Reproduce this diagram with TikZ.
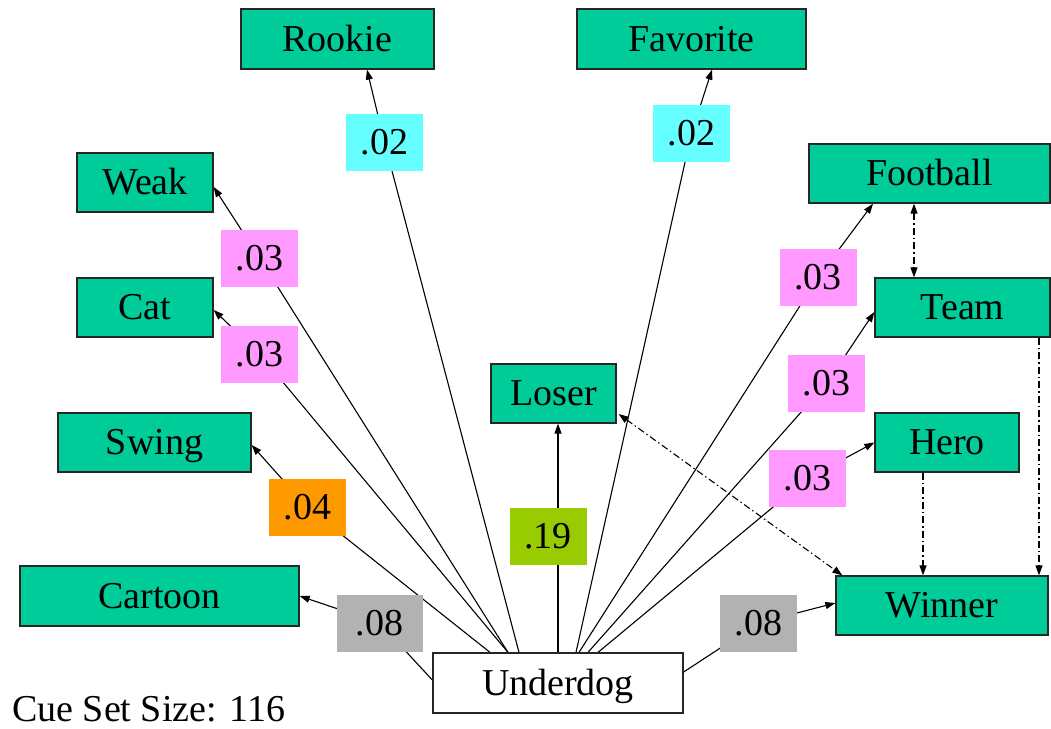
\documentclass[tikz,border=0pt]{standalone}
\usepackage{fontspec}
\setmainfont{Liberation Serif}
\usetikzlibrary{arrows.meta}
\definecolor{boxgreen}{HTML}{00CC99}
\definecolor{labpink}{HTML}{FF99FF}
\definecolor{labcyan}{HTML}{66FFFF}
\definecolor{laborange}{HTML}{FF9900}
\definecolor{lablime}{HTML}{99CC00}
\definecolor{labgray}{HTML}{B2B2B2}
\pgfdeclarelayer{background}
\pgfsetlayers{background,main}
\begin{document}
\begin{tikzpicture}[x=1pt,y=-1pt,
  bigfont/.style={font=\fontsize{38}{40}\selectfont},
  term/.style={bigfont, draw=black!85, line width=1.3pt, fill=boxgreen, inner sep=0pt,
    text height=28pt, text depth=4pt, anchor=center},
  cue/.style={term, fill=white},
  wlab/.style={bigfont, fill=#1, inner sep=0pt, minimum width=77pt, minimum height=57pt,
    text height=28pt, text depth=4pt, anchor=center},
  assoc/.style={line width=1.1pt, -{Triangle[length=10pt,width=7pt]}},
  rel/.style={line width=1.1pt, dash pattern=on 7pt off 3pt on 1.5pt off 3pt},
  relone/.style={rel, -{Triangle[length=10pt,width=7pt]}},
  reltwo/.style={rel, {Triangle[length=10pt,width=7pt]}-{Triangle[length=10pt,width=7pt]}}
]
\useasboundingbox (0,0) rectangle (1051,728);

% target boxes
\node[term, minimum width=193pt, minimum height=60pt] (rookie) at (337.5,39) {Rookie};
\node[term, minimum width=229pt, minimum height=60pt] (favorite) at (691.5,39) {Favorite};
\node[term, minimum width=136pt, minimum height=59pt] (weak) at (145,182.5) {Weak};
\node[term, minimum width=136pt, minimum height=59pt] (cat) at (145,307.5) {Cat};
\node[term, minimum width=193pt, minimum height=59pt] (swing) at (154.5,442.5) {Swing};
\node[term, minimum width=279pt, minimum height=60pt] (cartoon) at (159.5,596) {Cartoon};
\node[term, minimum width=125pt, minimum height=59pt] (loser) at (553.5,393.5) {Loser};
\node[term, minimum width=241pt, minimum height=59pt] (football) at (929.5,173.5) {Football};
\node[term, minimum width=175pt, minimum height=59pt] (team) at (962.5,307.5) {Team};
\node[term, minimum width=144pt, minimum height=59pt] (hero) at (947,442.5) {Hero};
\node[term, minimum width=212pt, minimum height=59pt] (winner) at (942,605.5) {Winner};
\node[cue, minimum width=250pt, minimum height=60pt] (underdog) at (558,683) {Underdog};

% strength labels
\node[wlab=labcyan] (lrookie) at (384.5,142.5) {.02};
\node[wlab=labcyan] (lfavorite) at (691.5,133) {.02};
\node[wlab=labpink] (lweak) at (259.5,258) {.03};
\node[wlab=labpink] (lcat) at (259.5,354) {.03};
\node[wlab=laborange] (lswing) at (307.5,507.5) {.04};
\node[wlab=labgray, minimum width=86pt] (lcartoon) at (379.5,623) {.08};
\node[wlab=lablime] (lloser) at (548,536.5) {.19};
\node[wlab=labpink] (lfootball) at (818,277.5) {.03};
\node[wlab=labpink] (lteam) at (826.5,383.5) {.03};
\node[wlab=labpink] (lhero) at (807.5,478.5) {.03};
\node[wlab=labgray] (lwinner) at (758.5,623) {.08};

\node[font=\fontsize{38}{40}\selectfont, inner sep=0pt, anchor=base west] (cueset) at (12,721) {Cue Set Size: 116};

\begin{pgfonlayer}{background}
\draw[assoc] ([xshift=-39pt]underdog.north) -- (lrookie.center) -- ([xshift=29.5pt]rookie.south);
\draw[assoc] ([xshift=18pt]underdog.north) -- (lfavorite.center) -- ([xshift=20.5pt]favorite.south);
\draw[assoc] ([xshift=-50pt]underdog.north) -- (lweak.center) -- ([yshift=-4.5pt]weak.east);
\draw[assoc] ([xshift=-50pt]underdog.north) -- (lcat.center) -- ([yshift=-2.5pt]cat.east);
\draw[assoc] ([xshift=-68pt]underdog.north) -- (lswing.center) -- ([yshift=-2.5pt]swing.east);
\draw[assoc] ([yshift=3pt]underdog.west) -- (lcartoon.center) -- (cartoon.east);
\draw[assoc] (underdog.north) -- (loser.south -| underdog.north);
\draw[assoc] ([xshift=21pt]underdog.north) -- (lfootball.center) -- ([xshift=-56.5pt]football.south);
\draw[assoc] ([xshift=30pt]underdog.north) -- (lteam.center) -- ([yshift=-4.5pt]team.west);
\draw[assoc] ([xshift=40pt]underdog.north) -- (lhero.center) -- (hero.west);
\draw[assoc] ([yshift=11pt]underdog.east) -- (lwinner.center) -- ([yshift=2.5pt]winner.west);
% relations among targets
\draw[reltwo] ([xshift=-15.5pt]football.south) -- ([xshift=-48.5pt]team.north);
\draw[relone] ([xshift=76.5pt]team.south) -- ([xshift=97pt]winner.north);
\draw[relone] ([xshift=-24pt]hero.south) -- ([xshift=-19pt]winner.north);
\draw[reltwo] ([xshift=2pt,yshift=-20.5pt]loser.east) -- ([xshift=7pt]winner.north west);
\end{pgfonlayer}
\end{tikzpicture}
\end{document}
